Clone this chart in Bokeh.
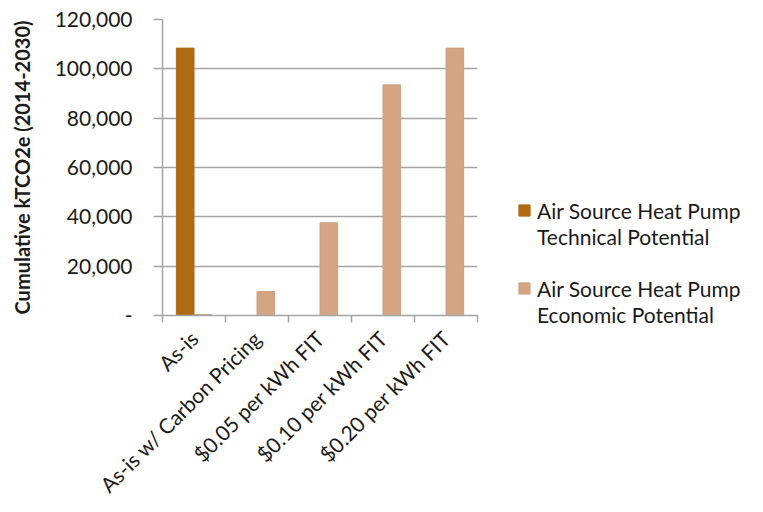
import math
from bokeh.plotting import figure
from bokeh.models import (Range1d, FixedTicker, NumeralTickFormatter, Legend,
                          LegendItem, ColumnDataSource)
from bokeh.embed import file_html
from bokeh.resources import INLINE

categories = ["As-is", "As-is w/ Carbon Pricing", "$0.05 per kWh FIT",
              "$0.10 per kWh FIT", "$0.20 per kWh FIT"]
technical = [108400, 0, 0, 0, 0]
economic = [400, 9700, 37600, 93500, 108400]
y_ticks = [0, 20000, 40000, 60000, 80000, 100000, 120000]
series_lines = [["Air Source Heat Pump", "Technical Potential"],
                ["Air Source Heat Pump", "Economic Potential"]]
y_title = "Cumulative kTCO2e (2014-2030)"

TECH_COLOR = "#B06A12"
ECON_COLOR = "#D3A583"
GRID = "#A3A3A3"
TEXT = "#1a1a1a"
FONT = "Lato"

n = len(categories)
centers = [i + 0.5 for i in range(n)]
bar_w = 0.28
off = 0.14

src = ColumnDataSource(dict(
    xt=[c - off for c in centers],
    xe=[c + off for c in centers],
    tech=technical,
    econ=economic,
))

p = figure(frame_width=315, frame_height=296,
           min_border_left=162, min_border_top=19,
           min_border_bottom=197, min_border_right=286,
           x_range=Range1d(0, n), y_range=Range1d(0, 120000),
           output_backend="svg", toolbar_location=None,
           outline_line_color=None, background_fill_color="white")

r1 = p.vbar(x="xt", top="tech", width=bar_w, source=src,
            fill_color=TECH_COLOR, line_color=TECH_COLOR, line_width=1)
r2 = p.vbar(x="xe", top="econ", width=bar_w, source=src,
            fill_color=ECON_COLOR, line_color="#C9A080", line_width=1)
# invisible renderer used only to indent wrapped legend lines
blank = p.vbar(x=[], top=[], width=bar_w, fill_alpha=0, line_alpha=0)

# grid
p.xgrid.grid_line_color = None
p.ygrid.grid_line_color = GRID
p.ygrid.grid_line_width = 1.5
p.ygrid.ticker = FixedTicker(ticks=y_ticks)

# y axis
ya = p.yaxis[0]
ya.ticker = FixedTicker(ticks=y_ticks)
ya.formatter = NumeralTickFormatter(format="0,0")
ya.major_label_overrides = {0: "-"}
ya.axis_line_color = GRID
ya.axis_line_width = 1.5
ya.major_tick_line_color = GRID
ya.major_tick_line_width = 1.5
ya.major_tick_out = 9
ya.major_tick_in = 0
ya.minor_tick_line_color = None
ya.major_label_text_font = FONT
ya.major_label_text_font_size = "21px"
ya.major_label_text_color = TEXT
ya.major_label_standoff = 21
ya.axis_label = y_title
ya.axis_label_text_font = FONT
ya.axis_label_text_font_style = "bold"
ya.axis_label_text_font_size = "20px"
ya.axis_label_text_color = TEXT
ya.axis_label_standoff = 18

# x axis
xa = p.xaxis[0]
xa.ticker = FixedTicker(ticks=centers, minor_ticks=list(range(n + 1)))
xa.major_label_overrides = {c: lab for c, lab in zip(centers, categories)}
xa.major_label_orientation = math.pi / 4
xa.major_tick_line_color = None
xa.minor_tick_line_color = GRID
xa.minor_tick_line_width = 1.5
xa.minor_tick_out = 7
xa.minor_tick_in = 0
xa.axis_line_color = GRID
xa.axis_line_width = 1.5
xa.major_label_text_font = FONT
xa.major_label_text_font_size = "21px"
xa.major_label_text_color = TEXT
xa.major_label_standoff = 12

items = [
    LegendItem(label=series_lines[0][0], renderers=[r1]),
    LegendItem(label=series_lines[0][1], renderers=[blank]),
    LegendItem(label=" ", renderers=[blank]),
    LegendItem(label=series_lines[1][0], renderers=[r2]),
    LegendItem(label=series_lines[1][1], renderers=[blank]),
]
legend = Legend(items=items, location=(40, -12), orientation="vertical",
                border_line_color=None, background_fill_alpha=0,
                padding=0, margin=0, spacing=0, label_height=26,
                glyph_width=14, glyph_height=14, label_standoff=6,
                label_text_font=FONT, label_text_font_size="21px",
                label_text_color=TEXT)
p.add_layout(legend, "right")

open("out.html", "w").write(file_html(p, INLINE))
